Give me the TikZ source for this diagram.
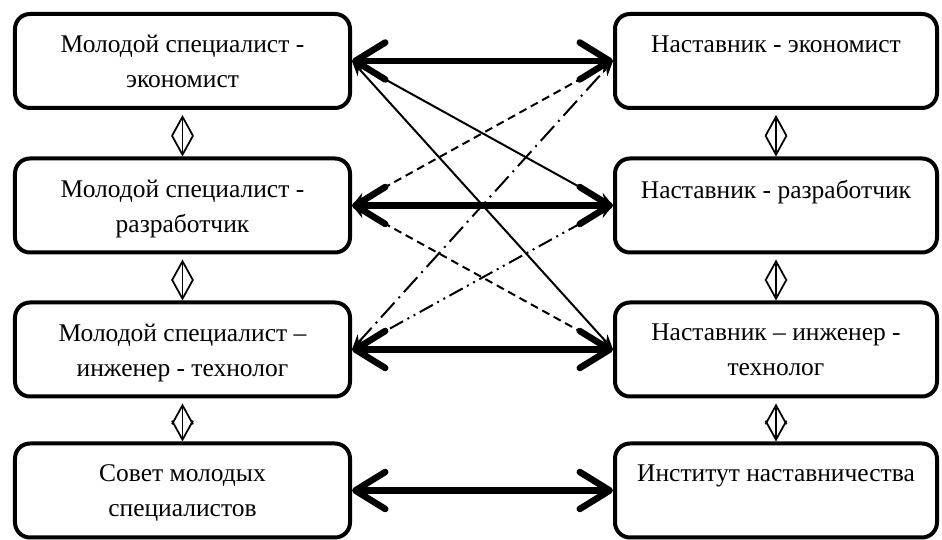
\documentclass[tikz,border=0pt]{standalone}
\usepackage{fontspec}
\setmainfont{Liberation Serif}
\usetikzlibrary{arrows.meta, positioning}

\begin{document}
\begin{tikzpicture}[
  box/.style={draw, line width=0.8mm, rounded corners=3mm, minimum height=1.88cm},
  lbox/.style={box, minimum width=6.7cm},
  rbox/.style={box, minimum width=6.44cm},
  txt/.style={align=center, inner sep=0pt, font=\fontsize{14.5}{20}\selectfont},
  mainlink/.style={line width=1.3mm, {Straight Barb[length=6mm,width=7.4mm,round]}-{Straight Barb[length=6mm,width=7.4mm,round]}},
  link/.style={line width=0.4mm, {Stealth[length=3mm,width=2.4mm]}-{Stealth[length=3mm,width=2.4mm]}},
  updown/.style={line width=0.35mm, {Straight Barb[length=3.8mm,width=4.2mm]}-{Straight Barb[length=3.8mm,width=4.2mm]}, shorten <=1mm}]

  \useasboundingbox (0,0) rectangle (18.84,10.8);

  % young specialists
  \node[lbox] (l1) at (3.65,9.58) {};
  \node[lbox] (l2) at (3.65,6.69) {};
  \node[lbox] (l3) at (3.65,3.81) {};
  \node[lbox] (l4) at (3.65,0.99) {};
  % mentors
  \node[rbox] (r1) at (15.52,9.58) {};
  \node[rbox] (r2) at (15.52,6.69) {};
  \node[rbox] (r3) at (15.52,3.81) {};
  \node[rbox] (r4) at (15.52,0.99) {};

  \node[txt, below=4.6mm of l1.north] (t1) {Молодой специалист -\\экономист};
  \node[txt, below=4.6mm of l2.north] (t2) {Молодой специалист -\\разработчик};
  \node[txt, below=4.6mm of l3.north] (t3) {Молодой специалист –\\инженер - технолог};
  \node[txt, below=4.6mm of l4.north] (t4) {Совет молодых\\специалистов};
  \node[txt, below=4.6mm of r1.north] (s1) {Наставник - экономист};
  \node[txt, below=4.6mm of r2.north] (s2) {Наставник - разработчик};
  \node[txt, below=4.6mm of r3.north] (s3) {Наставник – инженер -\\технолог};
  \node[txt, below=4.6mm of r4.north] (s4) {Институт наставничества};

  % vertical links
  \foreach \a/\b in {l1/l2, l2/l3, l3/l4, r1/r2, r2/r3, r3/r4}
    \draw[updown] (\a.south) -- (\b.north);

  % main links
  \foreach \i in {1,...,4}
    \draw[mainlink] (l\i.east) -- (r\i.west);

  % cross links
  \draw[link] (l1.east) -- (r2.west);
  \draw[link] (l1.east) -- (r3.west);
  \draw[link, dash pattern=on 1.6mm off 1mm] (l2.east) -- (r1.west);
  \draw[link, dash pattern=on 1.6mm off 1mm] (l2.east) -- (r3.west);
  \draw[link, dash pattern=on 4mm off 1.2mm on .4mm off 1.2mm] (l3.east) -- (r1.west);
  \draw[link, dash pattern=on 3mm off 1mm on .4mm off 1mm on .4mm off 1mm] (l3.east) -- (r2.west);
\end{tikzpicture}
\end{document}
